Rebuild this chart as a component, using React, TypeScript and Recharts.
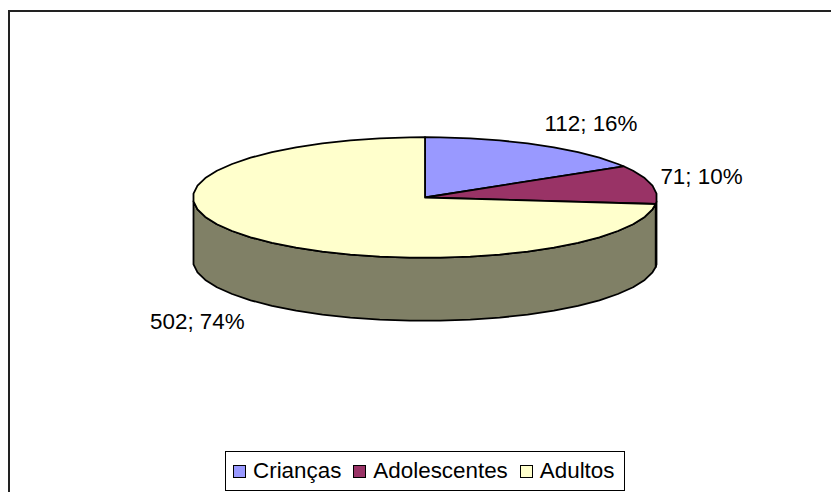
import { PieChart, Pie, Cell, Legend } from "recharts";

const categories = ["Crianças", "Adolescentes", "Adultos"];
const values = [112, 71, 502];
const percents = [16, 10, 74];
const topColors = ["#9999FF", "#993366", "#FFFFCC"];
const wallColors = ["#4D4D80", "#4D1A33", "#808066"];

const TILT = 0.26; // squash of the disc, ry / rx
const DEPTH = 63;
const RADIUS = 232;
const CX = 425;
const CY = 197.5;
const FACET = 7.5; // the rim is drawn as a polygon, like the original

const data = categories.map((name, i) => ({
    name,
    value: values[i],
    fill: topColors[i],
}));

const px = (cx: number, r: number, deg: number) =>
    cx + r * Math.cos((deg * Math.PI) / 180);
const py = (cy: number, r: number, deg: number) =>
    cy - r * TILT * Math.sin((deg * Math.PI) / 180);

// rim points going clockwise, angle "from" is larger than angle "to"
const rimPoints = (cx: number, cy: number, r: number, from: number, to: number) => {
    const angles = [from];
    let v = Math.floor((from - FACET / 2) / FACET) * FACET + FACET / 2;
    if (v >= from) v -= FACET;
    for (; v > to; v -= FACET) angles.push(v);
    angles.push(to);
    return angles.map((a) => [px(cx, r, a), py(cy, r, a)]);
};

const toPath = (pts: number[][]) =>
    pts.map((p) => `${p[0].toFixed(1)},${p[1].toFixed(1)}`).join(" L");

// top face of a slice, the circular sector squashed to an ellipse
const TopSlice = (props: any) => {
    const { cx, cy, outerRadius: r, startAngle, endAngle, fill } = props;
    const d = `M${cx},${cy} L${toPath(rimPoints(cx, cy, r, startAngle, endAngle))} Z`;
    return <path d={d} fill={fill} stroke="#000" strokeWidth={1.8} strokeLinejoin="round" />;
};

// side wall, only the front of the disc shows it
const WallSlice = (props: any) => {
    const { cx, cy, outerRadius: r, startAngle, endAngle, fill } = props;
    const a = Math.min(startAngle, -FACET / 2);
    const b = Math.max(endAngle, -180 + FACET / 2);
    if (a <= b) return null;
    const upper = rimPoints(cx, cy, r, a, b);
    const lower = upper.map((p) => [p[0], p[1] + DEPTH]).reverse();
    const d = `M${toPath(upper)} L${toPath(lower)} Z`;
    return <path d={d} fill={fill} stroke="#000" strokeWidth={1.8} strokeLinejoin="round" />;
};

const labelShift = [
    { dx: 52, dy: -21 },
    { dx: 50, dy: -7.5 },
    { dx: -55, dy: 83.5 },
];

const renderLabel = (props: any) => {
    const { cx, cy, outerRadius: r, midAngle, index } = props;
    const x = px(cx, r, midAngle) + labelShift[index].dx;
    const y = py(cy, r, midAngle) + labelShift[index].dy;
    return (
        <text x={x} y={y} textAnchor="middle" dominantBaseline="central" fontSize={22.4} fill="#000">
            {`${values[index]}; ${percents[index]}%`}
        </text>
    );
};

const LegendBox = ({ payload }: any) => (
    <div
        style={{
            display: "flex",
            alignItems: "center",
            boxSizing: "border-box",
            height: 40,
            width: 400,
            paddingLeft: 7,
            border: "1px solid #000",
            background: "#fff",
            fontFamily: "'Liberation Sans', Arial, sans-serif",
            fontSize: 22.4,
            color: "#000",
        }}
    >
        {(payload ?? [])
            .filter((entry: any) => entry.type !== "none")
            .map((entry: any) => (
                <span key={entry.value} style={{ display: "flex", alignItems: "center", marginRight: 12 }}>
                    <span
                        style={{
                            display: "inline-block",
                            boxSizing: "border-box",
                            width: 13,
                            height: 13,
                            marginRight: 7,
                            background: entry.color,
                            border: "1.5px solid #000",
                        }}
                    />
                    {entry.value}
                </span>
            ))}
    </div>
);

export default function App() {
    return (
        <div
            style={{
                position: "absolute",
                left: 0,
                top: 0,
                width: 831,
                height: 492,
                overflow: "hidden",
                background: "#fff",
            }}
        >
            <div
                style={{
                    position: "absolute",
                    left: 8,
                    top: 10,
                    width: 840,
                    height: 500,
                    borderTop: "2px solid #222",
                    borderLeft: "2px solid #222",
                }}
            />
            <PieChart
                width={831}
                height={492}
                margin={{ top: 0, right: 0, bottom: 0, left: 0 }}
                style={{ fontFamily: "'Liberation Sans', Arial, sans-serif" }}
            >
                <Pie
                    data={data}
                    dataKey="value"
                    nameKey="name"
                    cx={CX}
                    cy={CY}
                    outerRadius={RADIUS}
                    startAngle={90}
                    endAngle={-270}
                    stroke="none"
                    legendType="none"
                    shape={WallSlice}
                    isAnimationActive={false}
                >
                    {data.map((d, i) => (
                        <Cell key={d.name} fill={wallColors[i]} />
                    ))}
                </Pie>
                <Pie
                    data={data}
                    dataKey="value"
                    nameKey="name"
                    cx={CX}
                    cy={CY}
                    outerRadius={RADIUS}
                    startAngle={90}
                    endAngle={-270}
                    stroke="none"
                    legendType="square"
                    shape={TopSlice}
                    label={renderLabel}
                    labelLine={false}
                    isAnimationActive={false}
                >
                    {data.map((d, i) => (
                        <Cell key={d.name} fill={topColors[i]} />
                    ))}
                </Pie>
                <Legend
                    content={<LegendBox />}
                    itemSorter={null}
                    wrapperStyle={{ position: "absolute", left: 225, top: 451, width: 400, height: 40 }}
                />
            </PieChart>
        </div>
    );
}
